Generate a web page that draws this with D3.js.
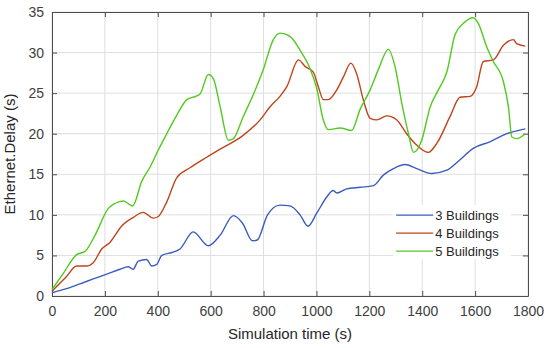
<!DOCTYPE html>
<html>
<head>
    <meta charset="utf-8">
    <title>Ethernet delay</title>
    <style>
        body {
            margin: 0;
            background: #fff;
            font-family: "Liberation Sans", Arial, sans-serif;
        }
        svg {
            display: block;
        }
        .tick-label {
            font-size: 14px;
            fill: #404040;
        }
        .axis-title {
            font-size: 15px;
            fill: #262626;
        }
        .legend text {
            font-size: 13px;
            fill: #262626;
        }
    </style>
    <script src="https://cdn.jsdelivr.net/npm/d3@7"></script>
</head>
<body>
<div id="chart"></div>
<script>
    // values: [time (s), delay (s)]
    var seriesNames = ['3 Buildings', '4 Buildings', '5 Buildings'];
    var seriesColors = ['#3a5cbc', '#c2421c', '#52c91e'];

    var buildings3 = [[0,0.4],[55,0.9],[106,1.5],[156,2.1],[207,2.7],[257,3.3],[288,3.6],[307,3.3],[326,4.3],[358,4.5],
        [377,3.7],[396,3.9],[415,5.0],[458,5.4],[484,5.8],[534,7.9],[591,6.2],[636,7.5],[686,9.9],[720,9.0],
        [758,6.8],[776,6.9],[815,10.0],[862,11.2],[900,11.1],[938,10.0],[968,8.6],[1001,10.2],[1039,12.2],[1063,13.0],
        [1077,12.7],[1114,13.2],[1165,13.4],[1215,13.6],[1253,14.9],[1291,15.7],[1335,16.2],[1379,15.7],[1436,15.1],[1493,15.5],
        [1543,16.8],[1593,18.2],[1656,19.0],[1720,20.0],[1776,20.5],[1790,20.6]];

    var buildings4 = [[0,0.6],[55,2.4],[93,3.7],[131,3.7],[156,4.1],[188,5.8],[219,6.6],[263,8.6],[308,9.7],[345,10.3],
        [383,9.6],[402,9.8],[434,11.6],[472,14.6],[522,15.8],[585,17.1],[636,18.1],[723,19.8],[787,21.7],[824,23.3],
        [862,24.6],[888,25.8],[932,29.1],[957,28.3],[988,27.6],[1007,25.8],[1026,24.2],[1045,24.2],[1077,25.4],[1102,27.0],
        [1130,28.7],[1152,27.4],[1177,24.2],[1203,21.9],[1228,21.7],[1266,22.2],[1304,21.7],[1341,20.0],[1379,18.6],[1423,17.7],
        [1455,18.8],[1505,22.1],[1543,24.5],[1581,24.6],[1606,25.8],[1631,28.9],[1669,29.1],[1707,30.9],[1745,31.6],[1757,31.1],
        [1790,30.8]];

    var buildings5 = [[0,0.8],[43,2.8],[93,5.1],[125,5.5],[163,7.5],[213,10.8],[238,11.4],[270,11.7],[305,11.1],[339,14.1],
        [371,15.9],[402,18.0],[434,20.0],[472,22.3],[510,24.2],[534,24.5],[560,24.9],[591,27.3],[610,26.8],[636,23.3],
        [667,19.2],[686,19.4],[723,22.1],[761,24.8],[799,27.9],[837,31.6],[862,32.4],[900,32.0],[938,30.3],[976,28.0],
        [1001,25.6],[1026,21.7],[1045,20.5],[1089,20.7],[1133,20.4],[1165,23.0],[1203,25.4],[1234,27.9],[1272,30.4],[1297,28.3],
        [1323,23.7],[1348,20.0],[1367,17.7],[1398,19.2],[1430,23.3],[1461,25.4],[1493,27.6],[1524,32.2],[1556,33.6],[1593,34.3],
        [1612,33.6],[1644,30.7],[1669,28.9],[1707,26.4],[1726,23.3],[1739,19.6],[1757,19.4],[1790,20.0]];

    var xTicks = [0, 200, 400, 600, 800, 1000, 1200, 1400, 1600, 1800];
    var yTicks = [0, 5, 10, 15, 20, 25, 30, 35];

    var W = 550, H = 348;
    var margin = {left: 52, top: 12, right: 22, bottom: 52};
    var iw = W - margin.left - margin.right,
        ih = H - margin.top - margin.bottom;

    var svg = d3.select('#chart').append('svg')
            .attr('width', W)
            .attr('height', H);
    var g = svg.append('g')
            .attr('transform', 'translate(' + margin.left + ',' + margin.top + ')');

    var x = d3.scaleLinear().domain([0, 1800]).range([0, iw]);
    var y = d3.scaleLinear().domain([0, 35]).range([ih, 0]);
    var fmt = d3.format('d');

    // grid
    g.append('g').selectAll('line.vx').data(xTicks).enter().append('line')
            .attr('x1', function (d) { return x(d); })
            .attr('x2', function (d) { return x(d); })
            .attr('y1', 0).attr('y2', ih)
            .attr('stroke', '#dedede').attr('stroke-width', 1);
    g.append('g').selectAll('line.hy').data(yTicks).enter().append('line')
            .attr('y1', function (d) { return y(d); })
            .attr('y2', function (d) { return y(d); })
            .attr('x1', 0).attr('x2', iw)
            .attr('stroke', '#dedede').attr('stroke-width', 1);

    // axes (ticks inward, like the original)
    var xAxis = g.append('g').attr('transform', 'translate(0,' + ih + ')')
            .call(d3.axisBottom(x).tickValues(xTicks).tickFormat(fmt).tickSizeInner(-5).tickSizeOuter(0).tickPadding(10));
    var xTop = g.append('g')
            .call(d3.axisTop(x).tickValues(xTicks).tickSizeInner(-5).tickSizeOuter(0).tickFormat(''));
    var yAxis = g.append('g')
            .call(d3.axisLeft(y).tickValues(yTicks).tickFormat(fmt).tickSizeInner(-5).tickSizeOuter(0).tickPadding(8));
    var yRight = g.append('g').attr('transform', 'translate(' + iw + ',0)')
            .call(d3.axisRight(y).tickValues(yTicks).tickSizeInner(-5).tickSizeOuter(0).tickFormat(''));

    [xAxis, xTop, yAxis, yRight].forEach(function (a) {
        a.select('.domain').attr('stroke', '#4d4d4d');
        a.selectAll('.tick line').attr('stroke', '#4d4d4d');
        a.selectAll('.tick text').attr('class', 'tick-label');
        a.attr('font-family', null).attr('font-size', null);
    });

    // lines
    var line = d3.line()
            .x(function (d) { return x(d[0]); })
            .y(function (d) { return y(d[1]); })
            .curve(d3.curveMonotoneX);

    var all = [buildings3, buildings4, buildings5];
    g.append('g').selectAll('path.series').data(all).enter().append('path')
            .attr('class', 'series')
            .attr('d', line)
            .attr('fill', 'none')
            .attr('stroke', function (d, i) { return seriesColors[i]; })
            .attr('stroke-width', 1.4);

    // legend
    var legend = g.append('g').attr('class', 'legend')
            .attr('transform', 'translate(' + (x(1290)) + ',' + (y(11.2)) + ')');
    legend.append('rect')
            .attr('x', 0).attr('y', 0)
            .attr('width', 118).attr('height', 54)
            .attr('fill', '#fff');
    var item = legend.selectAll('g.item').data(seriesNames).enter().append('g')
            .attr('class', 'item')
            .attr('transform', function (d, i) { return 'translate(0,' + (10 + i * 18) + ')'; });
    item.append('line')
            .attr('x1', 3).attr('x2', 40)
            .attr('stroke', function (d, i) { return seriesColors[i]; })
            .attr('stroke-width', 1.4);
    item.append('text')
            .attr('x', 42).attr('dy', '0.35em')
            .text(function (d) { return d; });

    // axis titles
    svg.append('text').attr('class', 'axis-title')
            .attr('text-anchor', 'middle')
            .attr('x', margin.left + iw / 2)
            .attr('y', H - 9)
            .text('Simulation time (s)');
    svg.append('text').attr('class', 'axis-title')
            .attr('text-anchor', 'middle')
            .attr('transform', 'translate(15,' + (margin.top + ih / 2) + ') rotate(-90)')
            .text('Ethernet.Delay (s)');
</script>
</body>
</html>
